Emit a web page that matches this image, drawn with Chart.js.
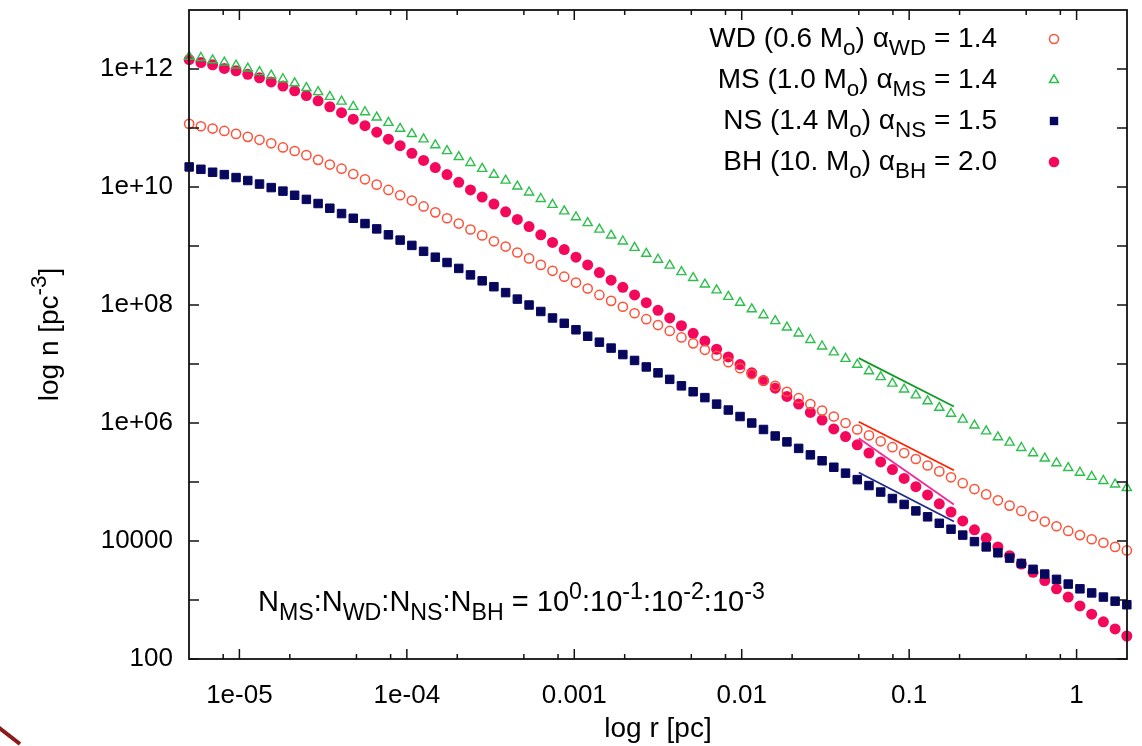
<!DOCTYPE html>
<html lang="en">
<head>
<meta charset="UTF-8">
<title>Number density profiles: WD, MS, NS, BH</title>
<style>
  *{margin:0;padding:0;box-sizing:border-box}
  body{background:#fff;width:1142px;height:746px;overflow:hidden}
  #wrap{position:relative;width:1142px;height:746px}
</style>
</head>
<body>
<div id="wrap"><canvas id="c" width="1142" height="746"></canvas></div>

<script src="https://cdn.jsdelivr.net/npm/chart.js@4.4.0"></script>
<script>
/* radius grid, log10 r [pc] */
const logR = [-5.30,-5.23,-5.16,-5.09,-5.02,-4.95,-4.88,-4.81,-4.74,-4.67,
  -4.60,-4.53,-4.46,-4.39,-4.32,-4.25,-4.18,-4.11,-4.04,-3.97,
  -3.90,-3.83,-3.76,-3.69,-3.62,-3.55,-3.48,-3.41,-3.34,-3.27,
  -3.20,-3.13,-3.06,-2.99,-2.92,-2.85,-2.78,-2.71,-2.64,-2.57,
  -2.50,-2.43,-2.36,-2.29,-2.22,-2.15,-2.08,-2.01,-1.94,-1.87,
  -1.80,-1.73,-1.66,-1.59,-1.52,-1.45,-1.38,-1.31,-1.24,-1.17,
  -1.10,-1.03,-0.96,-0.89,-0.82,-0.75,-0.68,-0.61,-0.54,-0.47,
  -0.40,-0.33,-0.26,-0.19,-0.12,-0.05,0.02,0.09,0.16,0.23,
  0.30];

/* log10 n [pc^-3] */
const wdLogN = [11.07,11.03,10.99,10.95,10.90,10.85,10.80,10.74,10.67,10.61,
  10.54,10.46,10.38,10.31,10.22,10.13,10.04,9.95,9.86,9.77,
  9.67,9.57,9.47,9.38,9.28,9.18,9.08,8.99,8.89,8.79,
  8.68,8.58,8.48,8.38,8.28,8.17,8.07,7.97,7.86,7.76,
  7.66,7.56,7.45,7.35,7.24,7.14,7.03,6.93,6.83,6.72,
  6.63,6.53,6.42,6.32,6.21,6.11,6.00,5.89,5.79,5.69,
  5.59,5.49,5.39,5.28,5.18,5.08,4.98,4.88,4.79,4.69,
  4.60,4.51,4.42,4.33,4.25,4.17,4.10,4.03,3.97,3.90,
  3.84];
const msLogN = [12.21,12.19,12.15,12.11,12.06,12.01,11.95,11.89,11.83,11.76,
  11.68,11.61,11.53,11.45,11.36,11.27,11.18,11.09,10.99,10.90,
  10.81,10.71,10.61,10.51,10.41,10.31,10.21,10.11,10.01,9.91,
  9.80,9.70,9.59,9.49,9.39,9.28,9.18,9.08,8.97,8.87,
  8.77,8.67,8.56,8.46,8.35,8.25,8.14,8.04,7.93,7.83,
  7.73,7.62,7.52,7.41,7.30,7.20,7.09,6.99,6.88,6.78,
  6.67,6.57,6.47,6.37,6.26,6.16,6.06,5.96,5.86,5.76,
  5.67,5.58,5.49,5.40,5.32,5.24,5.16,5.09,5.02,4.96,
  4.90];
const nsLogN = [10.34,10.30,10.25,10.21,10.16,10.11,10.05,9.99,9.93,9.86,
  9.79,9.72,9.64,9.55,9.47,9.38,9.29,9.19,9.10,9.01,
  8.91,8.81,8.72,8.62,8.51,8.41,8.31,8.21,8.10,8.00,
  7.89,7.78,7.69,7.58,7.47,7.37,7.27,7.16,7.06,6.95,
  6.85,6.74,6.63,6.53,6.43,6.32,6.22,6.11,6.00,5.89,
  5.78,5.68,5.57,5.46,5.36,5.25,5.15,5.04,4.94,4.83,
  4.72,4.62,4.51,4.41,4.30,4.20,4.10,3.99,3.90,3.80,
  3.71,3.62,3.52,3.44,3.35,3.27,3.19,3.12,3.05,2.98,
  2.92];
const bhLogN = [12.16,12.11,12.07,12.01,11.97,11.91,11.85,11.78,11.71,11.63,
  11.55,11.46,11.36,11.26,11.15,11.04,10.93,10.81,10.70,10.57,
  10.45,10.33,10.21,10.08,9.95,9.83,9.71,9.58,9.45,9.33,
  9.19,9.06,8.94,8.81,8.68,8.55,8.42,8.30,8.17,8.04,
  7.91,7.78,7.65,7.52,7.39,7.25,7.12,6.99,6.85,6.72,
  6.59,6.45,6.32,6.18,6.05,5.90,5.77,5.63,5.49,5.34,
  5.21,5.06,4.92,4.78,4.63,4.49,4.34,4.19,4.05,3.90,
  3.75,3.61,3.47,3.33,3.19,3.05,2.90,2.76,2.63,2.51,
  2.39];

/* short slope guides */
const slopeR  = [0.05, 0.185];
const msSlope = [7.10, 6.28];
const wdSlope = [6.02, 5.20];
const bhSlope = [5.74, 4.62];
const nsSlope = [5.16, 4.33];

/* ticks */
const xTickVals   = [1e-5, 1e-4, 1e-3, 1e-2, 1e-1, 1];
const xTickLabels = ["1e-05","1e-04","0.001","0.01","0.1","1"];
const xMinorVals  = [8e-6,2e-5,5e-5,8e-5,2e-4,5e-4,8e-4,2e-3,5e-3,8e-3,2e-2,5e-2,8e-2,2e-1,5e-1,8e-1];
const yTickVals   = [1e2, 1e4, 1e6, 1e8, 1e10, 1e12];
const yTickLabels = ["100","10000","1e+06","1e+08","1e+10","1e+12"];
const yMinorVals  = [1e3, 1e5, 1e7, 1e9, 1e11];

const FONT = '"Liberation Sans", Arial, Helvetica, sans-serif';

const pts = arr => arr.map((v,i)=>({x:Math.pow(10,logR[i]), y:Math.pow(10,v)}));
const seg = arr => arr.map((v,i)=>({x:slopeR[i], y:Math.pow(10,v)}));

/* text with sub (b) / superscript (p) parts */
function richWidth(ctx, parts, size){
  let w = 0;
  parts.forEach(([t,m])=>{ ctx.font = (m? size*0.8 : size)+'px '+FONT; w += ctx.measureText(t).width; });
  return w;
}
function drawRich(ctx, parts, x, y, size, align){
  const w = richWidth(ctx, parts, size);
  let cx = align==='right' ? x-w : align==='center' ? x-w/2 : x;
  ctx.textAlign = 'left';
  ctx.textBaseline = 'alphabetic';
  parts.forEach(([t,m])=>{
    ctx.font = (m? size*0.8 : size)+'px '+FONT;
    const dy = m==='b' ? size*0.3 : m==='p' ? -size*0.42 : 0;
    ctx.fillText(t, cx, y+dy);
    cx += ctx.measureText(t).width;
  });
}

const legendRows = [
  {parts:[['WD (0.6 M',''],['o','b'],[') α',''],['WD','b'],[' = 1.4','']], style:'ocircle', color:'#ff5038'},
  {parts:[['MS (1.0 M',''],['o','b'],[') α',''],['MS','b'],[' = 1.4','']], style:'triangle', color:'#2cbf4c'},
  {parts:[['NS (1.4 M',''],['o','b'],[') α',''],['NS','b'],[' = 1.5','']], style:'square', color:'#07075e'},
  {parts:[['BH (10. M',''],['o','b'],[') α',''],['BH','b'],[' = 2.0','']], style:'fcircle', color:'#f4085c'}
];
const ratioText = [['N',''],['MS','b'],[':N',''],['WD','b'],[':N',''],['NS','b'],[':N',''],['BH','b'],
  [' = 10',''],['0','p'],[':10',''],['-1','p'],[':10',''],['-2','p'],[':10',''],['-3','p']];

function marker(ctx, style, color, x, y){
  ctx.beginPath();
  ctx.lineWidth = 1.5;
  ctx.strokeStyle = color; ctx.fillStyle = color;
  if(style==='ocircle'){ ctx.arc(x,y,4.5,0,Math.PI*2); ctx.stroke(); }
  else if(style==='fcircle'){ ctx.arc(x,y,5.3,0,Math.PI*2); ctx.fill(); }
  else if(style==='square'){ ctx.rect(x-4.2,y-4.2,8.4,8.4); ctx.fill(); }
  else { const r=5.2; ctx.moveTo(x,y-r); ctx.lineTo(x+r*0.866,y+r/2); ctx.lineTo(x-r*0.866,y+r/2); ctx.closePath(); ctx.stroke(); }
}

const deco = {
  id:'deco',
  afterDraw(chart){
    const {ctx, chartArea:a, scales:{x, y}} = chart;
    ctx.save();
    // frame + inward ticks on all four sides
    ctx.strokeStyle = '#111'; ctx.lineWidth = 1.8;
    ctx.strokeRect(a.left, a.top, a.right-a.left, a.bottom-a.top);
    ctx.lineWidth = 1.5;
    ctx.beginPath();
    const xt = (v,len)=>{ const p=x.getPixelForValue(v); ctx.moveTo(p,a.bottom); ctx.lineTo(p,a.bottom-len); ctx.moveTo(p,a.top); ctx.lineTo(p,a.top+len); };
    const yt = (v,len)=>{ const p=y.getPixelForValue(v); ctx.moveTo(a.left,p); ctx.lineTo(a.left+len,p); ctx.moveTo(a.right,p); ctx.lineTo(a.right-len,p); };
    xTickVals.forEach(v=>xt(v,10)); xMinorVals.forEach(v=>xt(v,5));
    yTickVals.forEach(v=>yt(v,10)); yMinorVals.forEach(v=>yt(v,10));
    ctx.stroke();

    // legend, text right-aligned with symbol on the right
    legendRows.forEach((r,i)=>{
      ctx.fillStyle = '#000';
      drawRich(ctx, r.parts, 997, 47 + i*41, 28, 'right');
      marker(ctx, r.style, r.color, 1054, 39 + i*41);
    });
    ctx.fillStyle = '#000';
    drawRich(ctx, ratioText, 258, 611, 29, 'left');

    // axis titles
    drawRich(ctx, [['log r [pc]','']], (a.left+a.right)/2, 737, 28, 'center');
    ctx.save();
    ctx.translate(58, (a.top+a.bottom)/2);
    ctx.rotate(-Math.PI/2);
    drawRich(ctx, [['log n [pc',''],['-3','p'],[']','']], 0, 0, 28, 'center');
    ctx.restore();

    // stray mark at lower left corner
    ctx.beginPath();
    ctx.strokeStyle = '#8b1a1a'; ctx.lineWidth = 4;
    ctx.moveTo(-2,727); ctx.lineTo(20,744); ctx.stroke();
    ctx.restore();
  }
};

new Chart(document.getElementById('c'), {
  type:'scatter',
  data:{datasets:[
    {label:'WD', data:pts(wdLogN), pointStyle:'circle', pointRadius:4.6, borderWidth:1.5, borderColor:'#ff5038', backgroundColor:'rgba(0,0,0,0)', clip:12},
    {label:'MS', data:pts(msLogN), pointStyle:'triangle', pointRadius:5.3, borderWidth:1.4, borderColor:'#2cbf4c', backgroundColor:'rgba(0,0,0,0)', clip:12},
    {label:'NS', data:pts(nsLogN), pointStyle:'rect', pointRadius:6, borderWidth:1, borderColor:'#07075e', backgroundColor:'#07075e', clip:12},
    {label:'BH', data:pts(bhLogN), pointStyle:'circle', pointRadius:5.5, borderWidth:0, backgroundColor:'#f4085c', clip:12},
    {label:'ms slope', data:seg(msSlope), showLine:true, pointRadius:0, borderWidth:1.8, borderColor:'#139a25'},
    {label:'wd slope', data:seg(wdSlope), showLine:true, pointRadius:0, borderWidth:1.8, borderColor:'#ff2200'},
    {label:'bh slope', data:seg(bhSlope), showLine:true, pointRadius:0, borderWidth:1.8, borderColor:'#f2289a'},
    {label:'ns slope', data:seg(nsSlope), showLine:true, pointRadius:0, borderWidth:1.8, borderColor:'#1c2a8c'}
  ]},
  options:{
    responsive:false, animation:false, devicePixelRatio:1, events:[],
    layout:{padding:{top:10, right:15, left:0, bottom:0}},
    plugins:{legend:{display:false}, tooltip:{enabled:false}},
    scales:{
      x:{type:'logarithmic', min:5e-6, max:2,
        grid:{display:false}, border:{display:false},
        afterBuildTicks:s=>{ s.ticks = xTickVals.map(v=>({value:v})); },
        afterFit:s=>{ s.height = 87; s.paddingLeft = 0; s.paddingRight = 0; },
        ticks:{autoSkip:false, maxRotation:0, padding:13, color:'#000', font:{family:FONT, size:26},
          callback:(v,i)=>xTickLabels[i]}},
      y:{type:'logarithmic', min:1e2, max:1e13,
        grid:{display:false}, border:{display:false},
        afterBuildTicks:s=>{ s.ticks = yTickVals.map(v=>({value:v})); },
        afterFit:s=>{ s.width = 189; s.paddingTop = 0; s.paddingBottom = 0; },
        ticks:{autoSkip:false, padding:8, color:'#000', font:{family:FONT, size:26},
          callback:(v,i)=>yTickLabels[i]}}
    }
  },
  plugins:[deco]
});
</script>
</body>
</html>
